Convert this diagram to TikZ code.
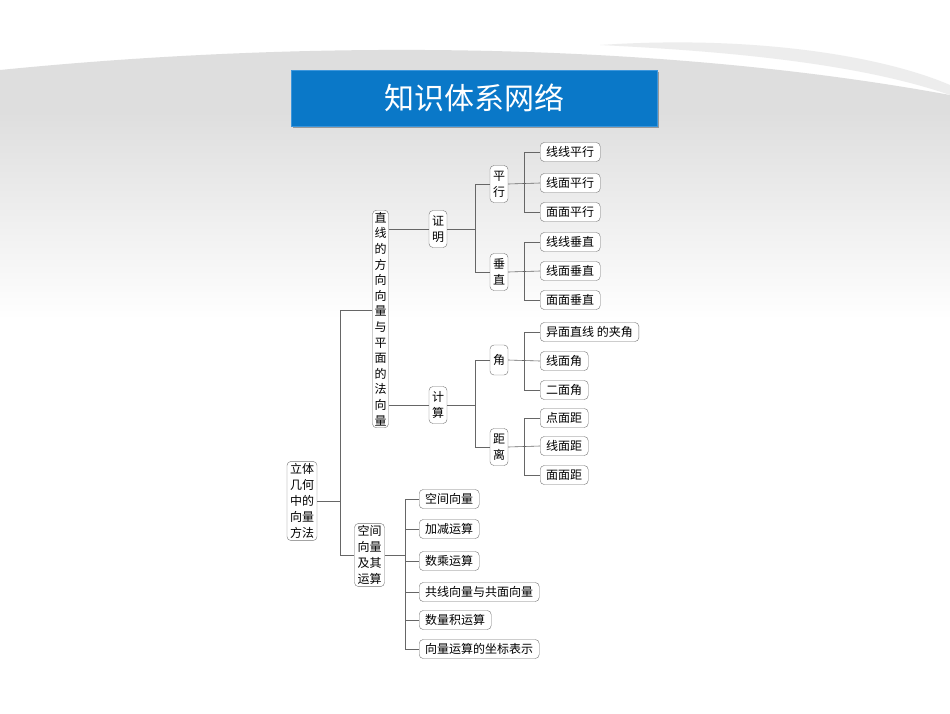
\documentclass[tikz,border=0pt]{standalone}
\usepackage{fontspec}
\newfontfamily\cjk{Noto Sans CJK SC}
\begin{document}
\begin{tikzpicture}[x=1pt,y=-1pt,
  bx/.style={draw=black!55,rounded corners=4pt,fill=white,font=\cjk\fontsize{12}{16}\selectfont,align=center,inner xsep=3pt,inner ysep=2pt},
  sb/.style={bx,minimum height=37pt},
  leaf/.style={bx,anchor=west,inner xsep=6pt,minimum height=19pt},
  ln/.style={draw=black!60,line width=0.6pt}]
\useasboundingbox (0,0) rectangle (950,713);
\fill[white] (0,0) rectangle (950,713);
\shade[top color=black!13,bottom color=white] (0,110) rectangle (950,320);
\fill[black!13] (0,70) .. controls (300,40) and (650,40) .. (950,95) -- (950,110) -- (0,110) -- cycle;
\fill[black!7] (600,45) .. controls (750,35) and (880,55) .. (950,85) -- (950,95) .. controls (850,60) and (700,50) .. (600,45) -- cycle;
% title
\fill[black!40] (293,72) rectangle (659,128);
\node[fill={rgb,255:red,10;green,120;blue,200},draw={rgb,255:red,60;green,150;blue,220},minimum width=366pt,minimum height=56pt,inner sep=0pt,text=white,font=\cjk\fontsize{30}{30}\selectfont] (title) at (474,98) {知识体系网络};
% nodes
\node[bx] (root) at (302,501) {立体\\几何\\中的\\向量\\方法};
\node[bx,font=\cjk\fontsize{12}{15.6}\selectfont,inner xsep=2pt] (zx) at (380.5,319) {直\\线\\的\\方\\向\\向\\量\\与\\平\\面\\的\\法\\向\\量};
\node[bx] (kj) at (369.5,555) {空间\\向量\\及其\\运算};
\node[sb] (zm) at (438,229) {证\\明};
\node[sb] (js) at (438,405) {计\\算};
\node[sb] (px) at (499,184) {平\\行};
\node[sb] (cz) at (499,272) {垂\\直};
\node[bx,minimum height=30pt] (jiao) at (499,360) {角};
\node[sb] (jl) at (499,447) {距\\离};
\node[leaf] (a1) at (540,152) {线线平行};
\node[leaf] (a2) at (540,183) {线面平行};
\node[leaf] (a3) at (540,212) {面面平行};
\node[leaf] (b1) at (540,242) {线线垂直};
\node[leaf] (b2) at (540,271) {线面垂直};
\node[leaf] (b3) at (540,300) {面面垂直};
\node[leaf] (c1) at (540,332) {异面直线 的夹角};
\node[leaf] (c2) at (540,361) {线面角};
\node[leaf] (c3) at (540,390) {二面角};
\node[leaf] (d1) at (540,418) {点面距};
\node[leaf] (d2) at (540,446) {线面距};
\node[leaf] (d3) at (540,475) {面面距};
\node[leaf] (e1) at (419,499) {空间向量};
\node[leaf] (e2) at (419,529) {加减运算};
\node[leaf] (e3) at (419,561) {数乘运算};
\node[leaf] (e4) at (419,592) {共线向量与共面向量};
\node[leaf] (e5) at (419,620) {数量积运算};
\node[leaf] (e6) at (419,649) {向量运算的坐标表示};
% connectors
\draw[ln] (root.east) -- (340,501);
\draw[ln] (zx.west |- 0,310) -| (340,555) -- (kj.west);
\draw[ln] (zx.east |- zm) -- (zm.west);
\draw[ln] (zx.east |- js) -- (js.west);
\draw[ln] (zm.east) -- (475,229);
\draw[ln] (px.west) -| (475,272) -- (cz.west);
\draw[ln] (js.east) -- (475,405);
\draw[ln] (jiao.west) -| (475,447) -- (jl.west);
\foreach \p/\l/\m/\r in {px/a1/a2/a3,cz/b1/b2/b3,jiao/c1/c2/c3,jl/d1/d2/d3}{
  \draw[ln] (\p.east) -- (\m.west);
  \draw[ln] (\l.west) -| (524,0 |- \r) -- (\r.west);
}
\draw[ln] (kj.east) -- (405,555);
\draw[ln] (e1.west) -| (405,0 |- e6) -- (e6.west);
\foreach \e in {e2,e3,e4,e5}{\draw[ln] (405,0 |- \e) -- (\e.west);}
\end{tikzpicture}
\end{document}
